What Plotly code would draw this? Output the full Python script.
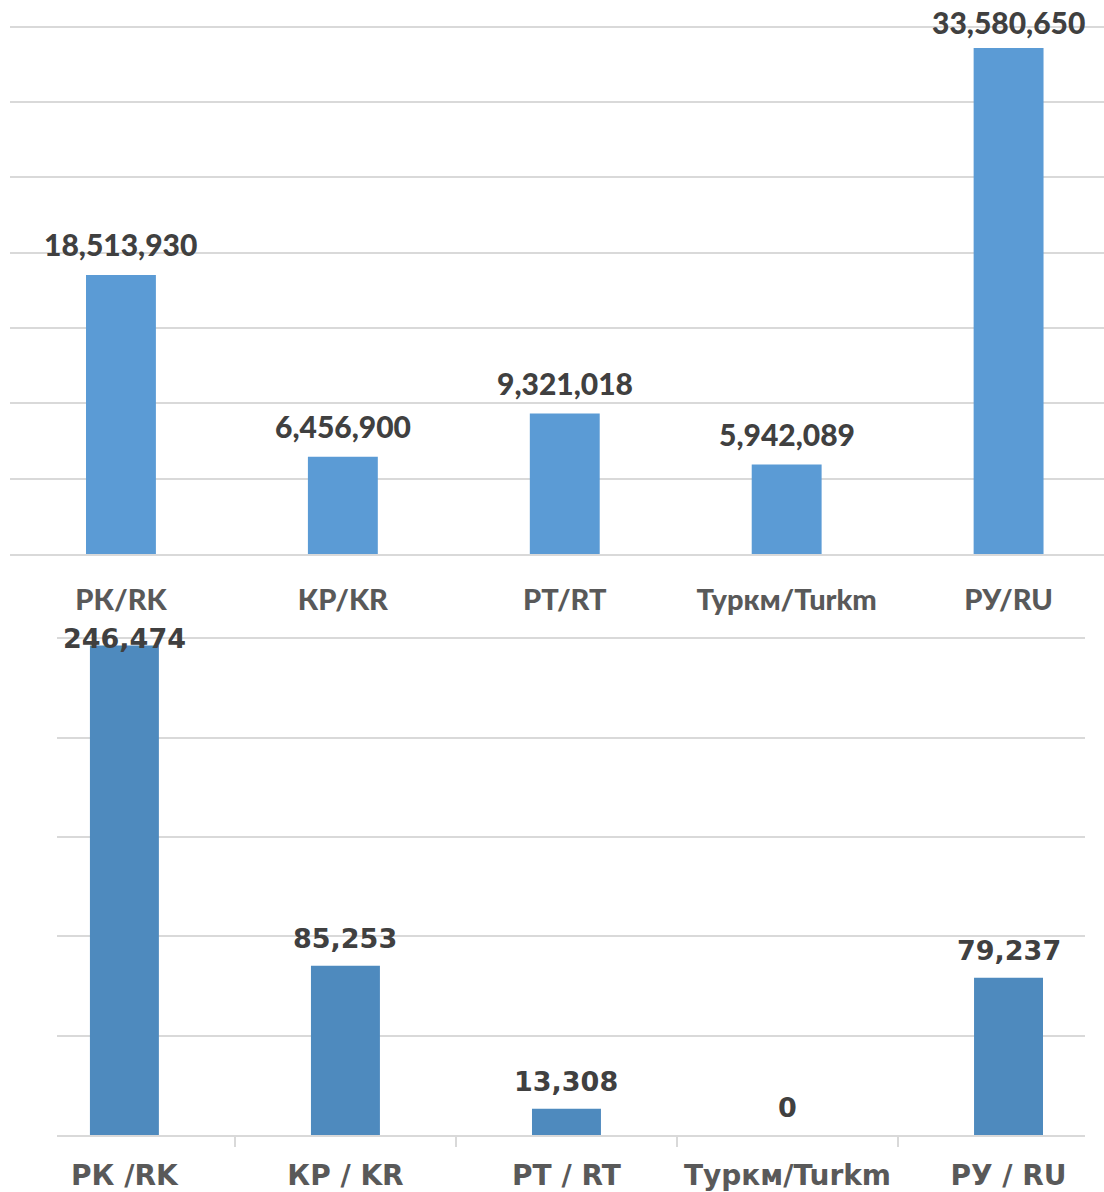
import plotly.graph_objects as go

# ---------------- data ----------------
top_categories = ["РК/RK", "КР/KR", "РТ/RT", "Туркм/Turkm", "РУ/RU"]
top_values = [18513930, 6456900, 9321018, 5942089, 33580650]

bottom_categories = ["РК /RK", "КР / KR", "РТ / RT", "Туркм/Turkm", "РУ / RU"]
bottom_values = [246474, 85253, 13308, 0, 79237]

top_ymax = 35000000
top_dtick = 5000000
bottom_ymax = 250000
bottom_dtick = 50000

# ---------------- layout geometry ----------------
W, H = 1104, 1192
top_plot_top, top_plot_bot = 25, 555
bot_plot_top, bot_plot_bot = 638, 1137
EPS = 1.003  # tiny headroom so the top gridline is drawn

GRID = "#D9D9D9"
LABEL_DARK = "#404040"
CAT_GREY = "#595959"
TOP_FONT = "Lato"
BOT_FONT = "DejaVu Sans"

fig = go.Figure()

fig.add_trace(go.Bar(
    x=top_categories, y=top_values, xaxis="x", yaxis="y",
    marker=dict(color="#5B9BD5", line=dict(width=0)), width=0.315,
    hoverinfo="x+y",
))
fig.add_trace(go.Bar(
    x=bottom_categories, y=bottom_values, xaxis="x2", yaxis="y2",
    marker=dict(color="#4E8ABE", line=dict(width=0)), width=0.312,
    hoverinfo="x+y",
))

annotations = []

def add_labels(cats, vals, ymax, plot_top, plot_bot, xref, yref, font, size, weight, gap, clamp, descent):
    ppu = (plot_bot - plot_top) / ymax
    for c, v in zip(cats, vals):
        offset = min(gap, (ymax - v) * ppu - clamp)
        annotations.append(dict(
            x=c, y=v, xref=xref, yref=yref, text=f"{v:,}", showarrow=False,
            yanchor="bottom", xanchor="center", yshift=offset - descent,
            font=dict(family=font, size=size, color=LABEL_DARK, weight=weight),
        ))

add_labels(top_categories, top_values, top_ymax, top_plot_top, top_plot_bot,
           "x", "y", TOP_FONT, 30, 900, 19, 8, 8)
add_labels(bottom_categories, bottom_values, bottom_ymax, bot_plot_top, bot_plot_bot,
           "x2", "y2", BOT_FONT, 27, "bold", 18, 10, 8)

fig.update_layout(
    width=W, height=H,
    margin=dict(l=0, r=0, t=0, b=0),
    paper_bgcolor="white", plot_bgcolor="white",
    showlegend=False,
    annotations=annotations,
    xaxis=dict(
        domain=[10 / W, 1], range=[-0.5, 4.43], type="category",
        showgrid=False, showline=True, linecolor=GRID, linewidth=2,
        ticks="", ticklabelstandoff=19,
        tickfont=dict(family=TOP_FONT, size=29, color=CAT_GREY, weight=900),
        anchor="y", fixedrange=True,
    ),
    yaxis=dict(
        domain=[1 - top_plot_bot / H, 1 - top_plot_top / H],
        range=[0, top_ymax * EPS], dtick=top_dtick, showticklabels=False,
        showgrid=True, gridcolor=GRID, gridwidth=2, zeroline=False,
        anchor="x", fixedrange=True,
    ),
    xaxis2=dict(
        domain=[57 / W, 1085 / W], range=[-0.305, 4.346], type="category",
        showgrid=False, showline=True, linecolor=GRID, linewidth=2,
        ticks="outside", ticklen=10, tickcolor=GRID, tickwidth=2,
        tickson="boundaries", ticklabelstandoff=14,
        tickfont=dict(family=BOT_FONT, size=28, color=CAT_GREY, weight="bold"),
        anchor="y2", fixedrange=True,
    ),
    yaxis2=dict(
        domain=[1 - bot_plot_bot / H, 1 - bot_plot_top / H],
        range=[0, bottom_ymax * EPS], dtick=bottom_dtick, showticklabels=False,
        showgrid=True, gridcolor=GRID, gridwidth=2, zeroline=False,
        anchor="x2", fixedrange=True,
    ),
)

fig.write_html(
    "out.html",
    config={"displayModeBar": False},
    post_script="document.body.style.margin='0';document.body.style.overflow='hidden';",
)
